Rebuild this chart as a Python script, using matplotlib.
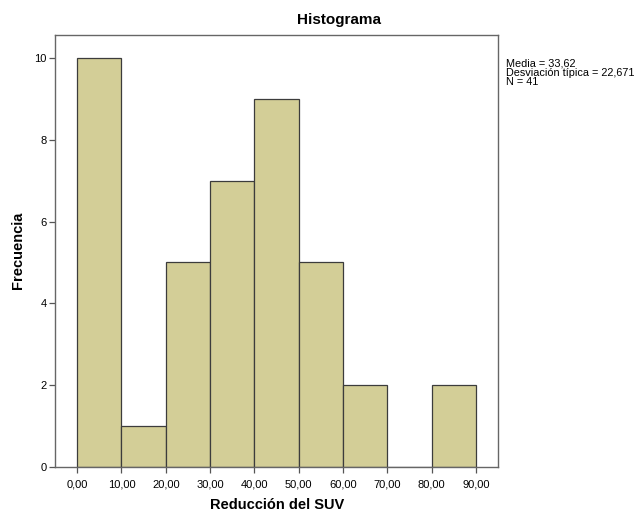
import numpy as np
import matplotlib.pyplot as plt

plt.rcParams['font.family'] = ['Liberation Sans', 'DejaVu Sans']

bin_edges = [0, 10, 20, 30, 40, 50, 60, 70, 80, 90]
counts = [10, 1, 5, 7, 9, 5, 2, 0, 2]
tick_labels = ['0,00', '10,00', '20,00', '30,00', '40,00', '50,00', '60,00', '70,00', '80,00', '90,00']
stats_lines = ['Media = 33,62', 'Desviación típica = 22,671', 'N = 41']

fig = plt.figure(figsize=(6.42, 5.13), dpi=100)
ax = fig.add_axes([0.0857, 0.0897, 0.69, 0.842])

left = np.array(bin_edges[:-1])
widths = np.diff(bin_edges)
ax.bar(left, counts, width=widths, align='edge', color='#d3ce97',
       edgecolor='#3c3c3c', linewidth=0.9)

ax.set_xlim(-5, 95)
ax.set_ylim(0, 10.56)
ax.set_xticks(bin_edges)
ax.set_xticklabels(tick_labels)
ax.set_yticks([0, 2, 4, 6, 8, 10])
ax.tick_params(axis='both', labelsize=8, length=4, width=0.9, color='#555555', direction='out')
ax.tick_params(axis='x', pad=5)
ax.tick_params(axis='y', pad=2)
for s in ax.spines.values():
    s.set_color('#666666')
    s.set_linewidth(1.0)

fig.text(277 / 642, 1 - 505 / 513, 'Reducción del SUV', ha='center', va='center',
         fontsize=10.5, fontweight='bold')
fig.text(18 / 642, 1 - 250 / 513, 'Frecuencia', ha='center', va='center',
         fontsize=10.5, fontweight='bold', rotation=90)

fig.text(339 / 642, 1 - 20 / 513, 'Histograma', ha='center', va='center', fontsize=11, fontweight='bold')
fig.text(506 / 642, 1 - 58 / 513, '\n'.join(stats_lines), ha='left', va='top', fontsize=7.8, linespacing=0.95)

fig.savefig('out.png', dpi=100)
